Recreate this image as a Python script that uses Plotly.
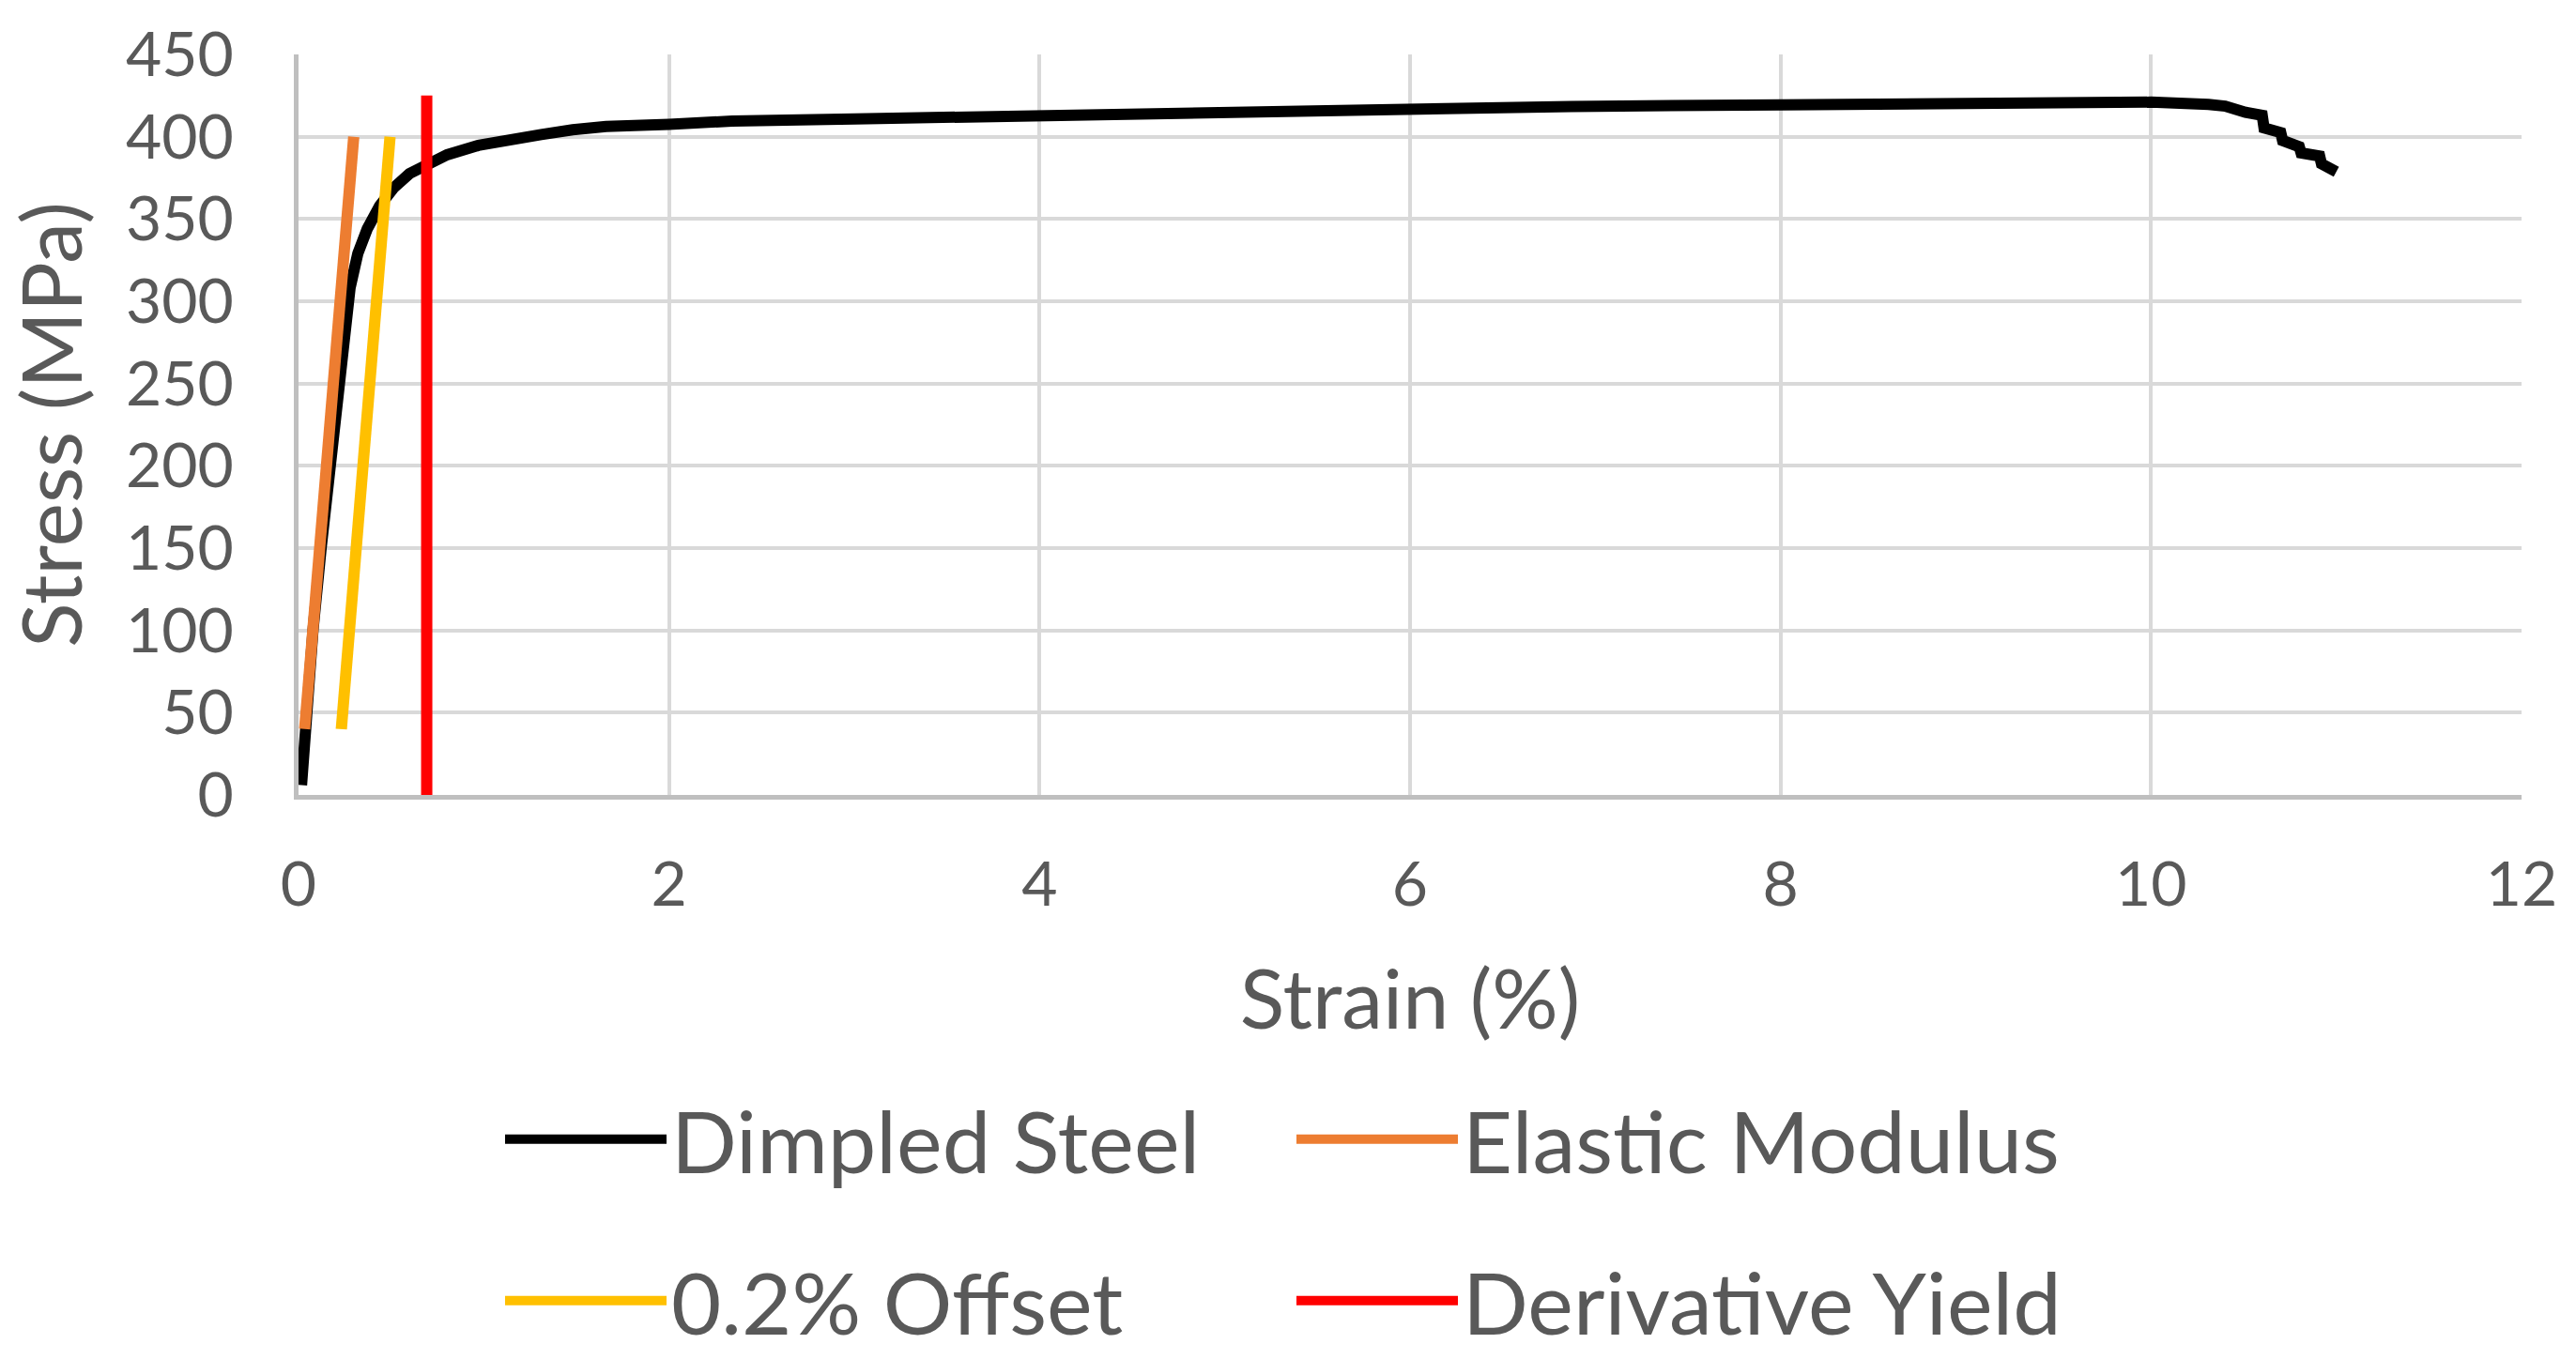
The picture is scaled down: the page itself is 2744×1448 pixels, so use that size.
import plotly.graph_objects as go

# Dimpled Steel stress-strain curve
steel_strain = [0.016, 0.036, 0.078, 0.122, 0.168, 0.227, 0.244, 0.278, 0.32, 0.371, 0.438,
                0.514, 0.599, 0.692, 0.802, 0.971, 1.14, 1.31, 1.48, 1.66, 2.0, 2.34, 3.0,
                3.45, 4.0, 4.6, 5.13, 6.0, 6.87, 8.0, 8.92, 9.5, 10.0, 10.31, 10.40, 10.51,
                10.60, 10.61, 10.70, 10.71, 10.80, 10.81, 10.91, 10.92, 11.0]
steel_stress = [6, 40, 100, 150, 200, 255, 281.6, 308, 329, 344, 358,
                369, 377.6, 383.3, 389, 394.7, 398.5, 401.3, 404.2, 406.2, 407.5, 409.5, 410.8,
                411.8, 413.1, 414.0, 415.0, 416.1, 418.4, 419.4, 420.5, 420.8, 421.0, 419.6, 418.6, 414.8,
                413.0, 405.3, 402.5, 397.7, 393.9, 390.1, 388.2, 383.5, 378.7]

elastic_strain = [0.033, 0.298]
elastic_stress = [40, 400]

offset_strain = [0.231, 0.494]
offset_stress = [40, 400]

deriv_strain = [0.692, 0.692]
deriv_stress = [0, 425]

x_ticks = [0, 2, 4, 6, 8, 10, 12]
y_ticks = [0, 50, 100, 150, 200, 250, 300, 350, 400, 450]

FONT = "Lato"
TXT = "#595959"
LW = 12

fig = go.Figure()
fig.add_trace(go.Scatter(x=steel_strain, y=steel_stress, mode="lines", name="Dimpled Steel",
                         line=dict(color="#000000", width=LW), legend="legend"))
fig.add_trace(go.Scatter(x=elastic_strain, y=elastic_stress, mode="lines", name="Elastic Modulus",
                         line=dict(color="#ED7D31", width=LW), legend="legend"))
fig.add_trace(go.Scatter(x=offset_strain, y=offset_stress, mode="lines", name="0.2% Offset",
                         line=dict(color="#FFC000", width=LW), legend="legend2"))
fig.add_trace(go.Scatter(x=deriv_strain, y=deriv_stress, mode="lines", name="Derivative Yield",
                         line=dict(color="#FF0000", width=LW), legend="legend2"))

leg_common = dict(orientation="h", xref="container", yref="container", x=533 / 2744,
                  xanchor="left", yanchor="middle", font=dict(family=FONT, size=92, color=TXT),
                  itemwidth=172, entrywidth=656, entrywidthmode="pixels",
                  bgcolor="rgba(0,0,0,0)", traceorder="normal")

fig.update_layout(
    width=2744, height=1448,
    paper_bgcolor="white", plot_bgcolor="white",
    margin=dict(l=318, r=58, t=58, b=601, autoexpand=False),
    font=dict(family=FONT, color=TXT),
    showlegend=True,
    legend=dict(y=1 - 1214 / 1448, **leg_common),
    legend2=dict(y=1 - 1386 / 1448, **leg_common),
    xaxis=dict(range=[0, 12], tickvals=x_ticks, ticktext=[str(v) for v in x_ticks],
               showgrid=True, gridcolor="#D9D9D9", gridwidth=4,
               showline=True, linecolor="#BFBFBF", linewidth=5, zeroline=False,
               ticks="", ticklabelstandoff=34,
               tickfont=dict(family=FONT, size=66, color=TXT),
               title=dict(text="Strain (%)", font=dict(family=FONT, size=88, color=TXT), standoff=58),
               automargin=False),
    yaxis=dict(range=[0, 450], tickvals=y_ticks, ticktext=[str(v) for v in y_ticks],
               showgrid=True, gridcolor="#D9D9D9", gridwidth=4,
               showline=True, linecolor="#BFBFBF", linewidth=5, zeroline=False,
               ticks="", ticklabelstandoff=51,
               tickfont=dict(family=FONT, size=66, color=TXT),
               title=dict(text="Stress (MPa)", font=dict(family=FONT, size=88, color=TXT), standoff=21),
               automargin=False),
)

fig.write_html("out.html", config={"displayModeBar": False},
               post_script="document.body.style.margin='0px';")
